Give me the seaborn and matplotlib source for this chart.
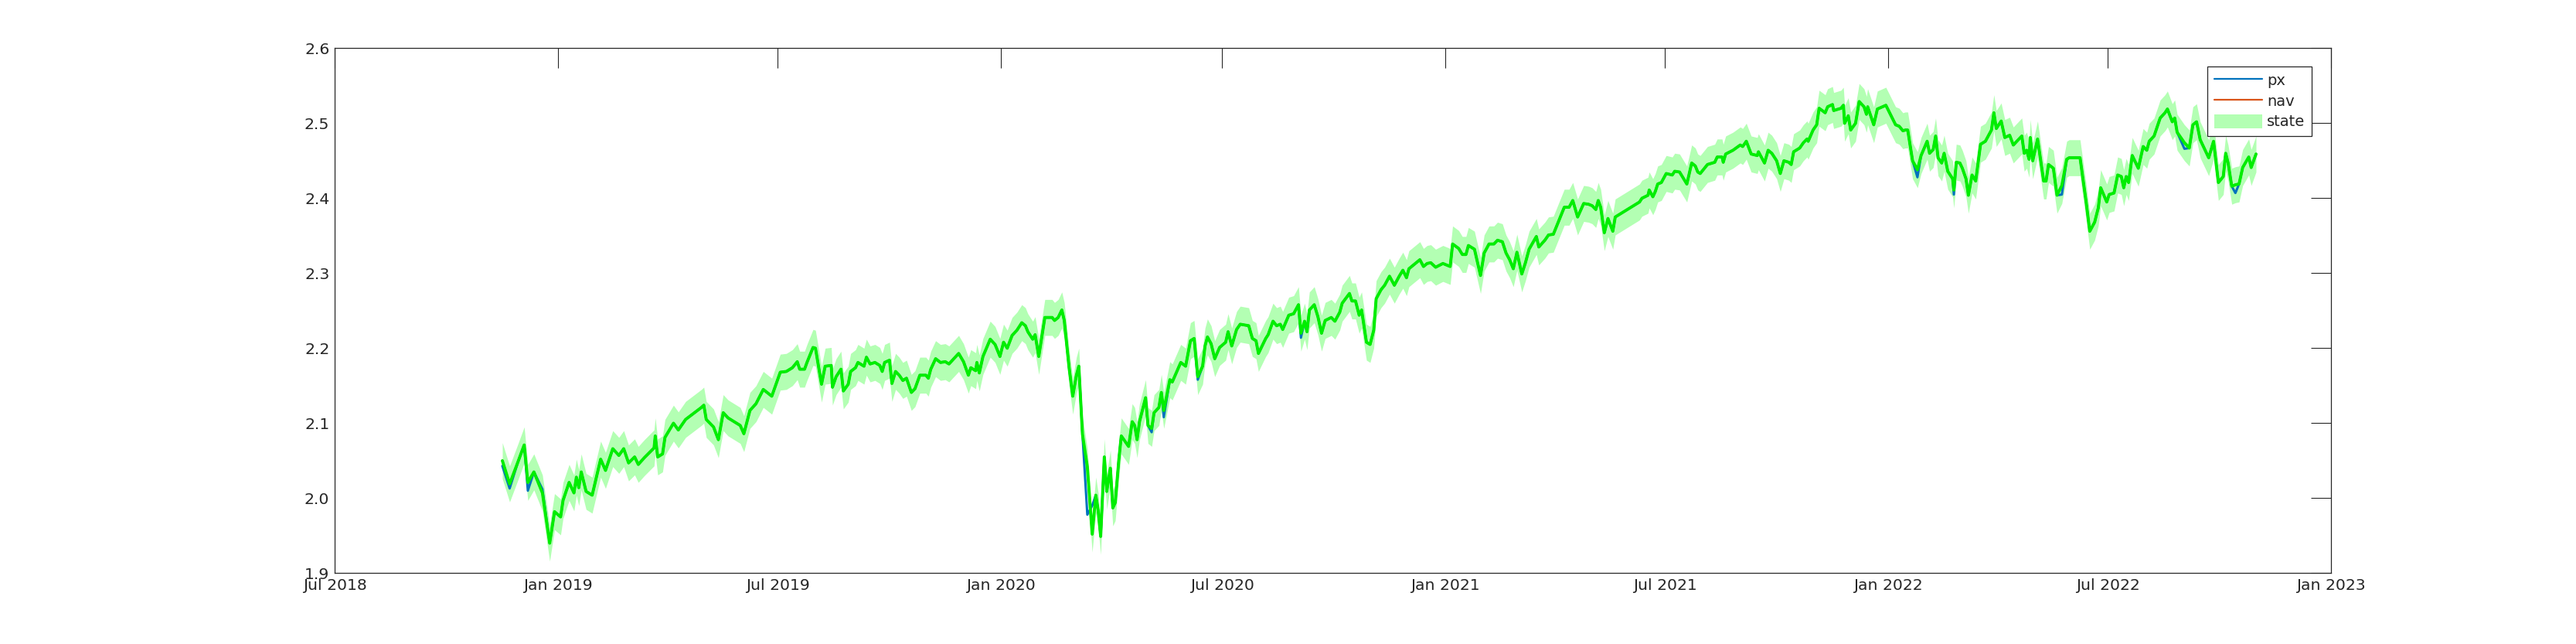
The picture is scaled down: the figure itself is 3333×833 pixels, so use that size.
import pandas as pd
import matplotlib.pyplot as plt
import matplotlib.dates as mdates
from matplotlib.lines import Line2D
from matplotlib.patches import Patch
import seaborn as sns

# MATLAB-like look: white background, boxed axes
sns.set_style("white")
plt.rcParams['font.family'] = ['DejaVu Sans']

# --- data --------------------------------------------------------------
# days after 2018-07-01
day_num = [
    138, 144, 151, 156, 159, 164, 171, 177, 181, 186, 188, 193, 197, 199, 201, 203, 207, 212, 219, 223,
    229, 234, 238, 242, 247, 250, 255, 263, 264, 266, 270, 272, 279, 283, 289, 302, 304, 306, 312, 316,
    320, 324, 327, 334, 337, 342, 347, 353, 360, 367, 372, 377, 381, 383, 387, 389, 394, 396, 401, 404,
    409, 410, 413, 417, 419, 423, 425, 429, 431, 436, 438, 441, 445, 449, 451, 453, 457, 459, 462, 465,
    468, 471, 475, 478, 482, 487, 489, 491, 495, 499, 503, 506, 510, 514, 518, 522, 524, 528, 529, 531,
    534, 540, 544, 548, 551, 554, 558, 562, 566, 569, 571, 575, 577, 580, 585, 591, 593, 596, 599, 601,
    605, 608, 611, 613, 616, 620, 624, 627, 629, 631, 634, 636, 639, 641, 643, 646, 648, 654, 657, 659,
    661, 663, 668, 670, 673, 675, 679, 681, 683, 688, 690, 697, 701, 703, 705, 708, 711, 715, 717, 719,
    722, 725, 729, 734, 736, 739, 743, 746, 753, 756, 759, 761, 767, 769, 773, 776, 779, 781, 786, 790,
    794, 796, 799, 801, 803, 807, 810, 813, 816, 821, 824, 828, 830, 836, 838, 841, 844, 846, 850, 853,
    856, 858, 862, 865, 869, 873, 877, 880, 883, 885, 891, 894, 897, 900, 903, 907, 913, 919, 921, 926,
    929, 932, 934, 939, 944, 947, 951, 955, 958, 962, 965, 968, 971, 974, 978, 981, 984, 990, 992, 997,
    1000, 1004, 1013, 1017, 1020, 1024, 1029, 1033, 1036, 1039, 1041, 1043, 1046, 1049, 1053, 1055, 1061, 1070, 1075, 1077,
    1082, 1083, 1086, 1088, 1090, 1093, 1097, 1102, 1104, 1108, 1114, 1116, 1118, 1121, 1123, 1125, 1131, 1137, 1139, 1143,
    1144, 1146, 1152, 1158, 1160, 1163, 1167, 1172, 1173, 1178, 1181, 1184, 1188, 1191, 1194, 1198, 1200, 1202, 1207, 1210,
    1213, 1214, 1218, 1221, 1223, 1228, 1230, 1234, 1235, 1241, 1243, 1244, 1247, 1249, 1253, 1256, 1260, 1262, 1263, 1268,
    1271, 1278, 1286, 1289, 1292, 1294, 1296, 1300, 1304, 1307, 1312, 1314, 1317, 1319, 1321, 1324, 1326, 1329, 1333, 1334,
    1336, 1339, 1341, 1344, 1346, 1349, 1352, 1356, 1360, 1365, 1367, 1369, 1373, 1376, 1380, 1383, 1390, 1392, 1394, 1396,
    1397, 1399, 1403, 1408, 1410, 1412, 1416, 1419, 1423, 1427, 1429, 1438, 1443, 1446, 1450, 1453, 1455, 1460, 1462, 1466,
    1469, 1472, 1474, 1476, 1478, 1481, 1486, 1490, 1493, 1495, 1499, 1504, 1508, 1510, 1514, 1516, 1518, 1524, 1528, 1531,
    1534, 1537, 1544, 1548, 1552, 1556, 1558, 1560, 1563, 1566, 1569, 1572, 1577, 1579, 1583,
]

nav = [
    2.050, 2.019, 2.049, 2.071, 2.021, 2.035, 2.007, 1.940, 1.982, 1.975, 1.997, 2.021, 2.007, 2.028, 2.014, 2.035, 2.009, 2.004, 2.052, 2.037,
    2.066, 2.057, 2.066, 2.047, 2.055, 2.045, 2.054, 2.067, 2.083, 2.055, 2.059, 2.081, 2.100, 2.091, 2.105, 2.121, 2.124, 2.105, 2.095, 2.078,
    2.114, 2.107, 2.104, 2.097, 2.086, 2.117, 2.126, 2.145, 2.136, 2.168, 2.169, 2.174, 2.182, 2.172, 2.172, 2.181, 2.201, 2.200, 2.152, 2.176,
    2.177, 2.148, 2.162, 2.172, 2.143, 2.152, 2.169, 2.174, 2.181, 2.176, 2.188, 2.179, 2.181, 2.177, 2.169, 2.181, 2.184, 2.153, 2.169, 2.164,
    2.157, 2.160, 2.141, 2.146, 2.164, 2.164, 2.160, 2.172, 2.186, 2.181, 2.182, 2.179, 2.186, 2.193, 2.182, 2.164, 2.174, 2.170, 2.181, 2.167,
    2.189, 2.212, 2.205, 2.189, 2.208, 2.200, 2.217, 2.224, 2.234, 2.230, 2.222, 2.212, 2.218, 2.189, 2.241, 2.241, 2.237, 2.241, 2.251, 2.237,
    2.174, 2.136, 2.164, 2.176, 2.085, 2.042, 1.952, 2.004, 1.983, 1.949, 2.055, 2.009, 2.040, 1.987, 1.994, 2.052, 2.083, 2.069, 2.102, 2.097,
    2.078, 2.102, 2.134, 2.097, 2.093, 2.114, 2.121, 2.141, 2.117, 2.158, 2.155, 2.181, 2.176, 2.193, 2.210, 2.213, 2.162, 2.176, 2.203, 2.215,
    2.206, 2.186, 2.201, 2.208, 2.222, 2.203, 2.225, 2.232, 2.230, 2.213, 2.210, 2.193, 2.213, 2.218, 2.236, 2.230, 2.232, 2.225, 2.244, 2.246,
    2.258, 2.220, 2.236, 2.222, 2.251, 2.258, 2.242, 2.220, 2.237, 2.241, 2.236, 2.248, 2.260, 2.273, 2.263, 2.263, 2.244, 2.251, 2.208, 2.205,
    2.224, 2.266, 2.278, 2.284, 2.296, 2.284, 2.296, 2.304, 2.294, 2.306, 2.314, 2.318, 2.309, 2.313, 2.314, 2.308, 2.313, 2.309, 2.339, 2.333,
    2.325, 2.325, 2.337, 2.332, 2.297, 2.327, 2.339, 2.339, 2.344, 2.342, 2.327, 2.318, 2.306, 2.328, 2.299, 2.314, 2.332, 2.349, 2.335, 2.344,
    2.351, 2.352, 2.388, 2.388, 2.397, 2.375, 2.393, 2.392, 2.390, 2.385, 2.397, 2.388, 2.354, 2.373, 2.356, 2.375, 2.381, 2.390, 2.395, 2.400,
    2.404, 2.411, 2.402, 2.409, 2.419, 2.421, 2.433, 2.431, 2.436, 2.435, 2.419, 2.433, 2.447, 2.443, 2.435, 2.433, 2.445, 2.448, 2.455, 2.455,
    2.448, 2.459, 2.464, 2.471, 2.469, 2.476, 2.459, 2.457, 2.462, 2.447, 2.464, 2.460, 2.450, 2.433, 2.450, 2.448, 2.445, 2.462, 2.467, 2.474,
    2.479, 2.476, 2.491, 2.498, 2.520, 2.514, 2.522, 2.525, 2.517, 2.520, 2.524, 2.500, 2.510, 2.491, 2.500, 2.529, 2.522, 2.512, 2.522, 2.498,
    2.519, 2.524, 2.498, 2.496, 2.490, 2.491, 2.491, 2.450, 2.438, 2.457, 2.476, 2.460, 2.465, 2.483, 2.454, 2.447, 2.460, 2.436, 2.426, 2.411,
    2.448, 2.447, 2.440, 2.426, 2.404, 2.431, 2.423, 2.472, 2.476, 2.491, 2.514, 2.493, 2.503, 2.481, 2.484, 2.471, 2.483, 2.460, 2.464, 2.452,
    2.481, 2.450, 2.479, 2.423, 2.423, 2.445, 2.440, 2.404, 2.417, 2.452, 2.454, 2.454, 2.395, 2.356, 2.368, 2.387, 2.414, 2.395, 2.405, 2.407,
    2.431, 2.429, 2.414, 2.429, 2.421, 2.457, 2.440, 2.469, 2.464, 2.476, 2.483, 2.507, 2.514, 2.519, 2.502, 2.507, 2.488, 2.474, 2.467, 2.498,
    2.502, 2.478, 2.454, 2.476, 2.421, 2.429, 2.460, 2.447, 2.416, 2.418, 2.419, 2.441, 2.455, 2.441, 2.459,
]

# places where the px line visibly departs from nav
px_where_different = {
    138: 2.043, 144: 2.013, 159: 2.010, 171: 2.012, 620: 1.978, 624: 1.990,
    673: 2.088, 683: 2.108, 711: 2.158, 796: 2.214, 1304: 2.428, 1334: 2.405,
    1423: 2.405, 1524: 2.466, 1566: 2.407,
}

# half width of the shaded state band
state_halfwidth = 0.024

start_date = pd.Timestamp("2018-07-01")
tick_dates = ["2018-07-01", "2019-01-01", "2019-07-01", "2020-01-01", "2020-07-01",
              "2021-01-01", "2021-07-01", "2022-01-01", "2022-07-01", "2023-01-01"]
y_ticks = [1.9, 2.0, 2.1, 2.2, 2.3, 2.4, 2.5, 2.6]

# MATLAB default colours
PX_COLOR = "#0072BD"
NAV_COLOR = "#D95319"
BAND_COLOR = "#B3FFB3"
STATE_COLOR = "#00EE00"
AX_COLOR = "#262626"


def build_frame():
    df = pd.DataFrame({"day": day_num, "nav": nav})
    df["date"] = start_date + pd.to_timedelta(df["day"], unit="D")
    df["px"] = [px_where_different.get(d, v) for d, v in zip(day_num, nav)]
    df["state"] = df["nav"]
    df["upper"] = df["state"] + state_halfwidth
    df["lower"] = df["state"] - state_halfwidth
    return df


def draw(df):
    fig = plt.figure(figsize=(33.33, 8.33), dpi=100)
    ax = fig.add_axes([0.13, 0.11, 0.775, 0.815])

    # shaded state band, then the series on top
    ax.fill_between(df["date"], df["lower"], df["upper"], color=BAND_COLOR, linewidth=0)
    sns.lineplot(data=df, x="date", y="px", ax=ax, color=PX_COLOR, linewidth=2.2)
    sns.lineplot(data=df, x="date", y="nav", ax=ax, color=NAV_COLOR, linewidth=2.0)
    sns.lineplot(data=df, x="date", y="state", ax=ax, color=STATE_COLOR, linewidth=2.8)

    # axes limits and ticks
    ax.set_xlim(pd.Timestamp(tick_dates[0]), pd.Timestamp(tick_dates[-1]))
    ax.set_ylim(1.9, 2.6)
    ax.set_xticks(pd.to_datetime(tick_dates))
    ax.xaxis.set_major_formatter(mdates.DateFormatter("%b %Y"))
    ax.set_yticks(y_ticks)
    ax.set_yticklabels([f"{t:.1f}" for t in y_ticks])
    ax.set_xlabel("")
    ax.set_ylabel("")

    ax.tick_params(axis="both", direction="in", length=18.7, width=0.8,
                   top=True, right=True, labelsize=14.7, pad=5,
                   color=AX_COLOR, labelcolor=AX_COLOR)
    for spine in ax.spines.values():
        spine.set_visible(True)
        spine.set_color(AX_COLOR)
        spine.set_linewidth(0.9)

    # legend: px, nav, state band
    handles = [
        Line2D([], [], color=PX_COLOR, linewidth=1.6),
        Line2D([], [], color=NAV_COLOR, linewidth=1.6),
        Patch(facecolor=BAND_COLOR, edgecolor="none"),
    ]
    leg = ax.legend(handles, ["px", "nav", "state"], loc="upper right",
                    bbox_to_anchor=(0.9902, 0.966), fontsize=14,
                    handlelength=3.2, handleheight=1.05, handletextpad=0.3,
                    labelspacing=0.36, borderpad=0.45, borderaxespad=0.0,
                    fancybox=False, framealpha=1.0)
    leg.get_frame().set_edgecolor(AX_COLOR)
    leg.get_frame().set_linewidth(0.9)

    fig.savefig("out.png", dpi=100)


if __name__ == "__main__":
    draw(build_frame())
